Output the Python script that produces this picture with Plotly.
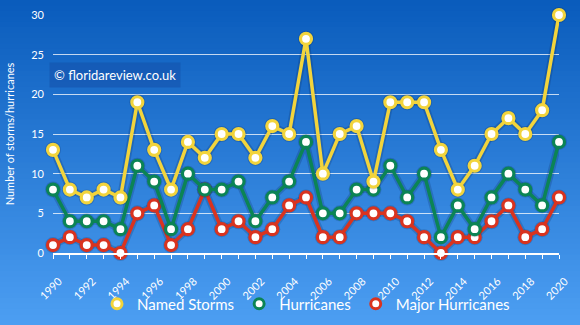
import plotly.graph_objects as go

years = list(range(1990, 2021))
named_storms = [13, 8, 7, 8, 7, 19, 13, 8, 14, 12, 15, 15, 12, 16, 15, 27, 10, 15, 16, 9,
                19, 19, 19, 13, 8, 11, 15, 17, 15, 18, 30]
hurricanes = [8, 4, 4, 4, 3, 11, 9, 3, 10, 8, 8, 9, 4, 7, 9, 14, 5, 5, 8, 8,
              11, 7, 10, 2, 6, 3, 7, 10, 8, 6, 14]
major_hurricanes = [1, 2, 1, 1, 0, 5, 6, 1, 3, 8, 3, 4, 2, 3, 6, 7, 2, 2, 5, 5,
                    5, 4, 2, 0, 2, 2, 4, 6, 2, 3, 7]
tick_years = list(range(1990, 2021, 2))

W, H = 580, 325
L, R, T, B = 53, 21, 15, 72
pw, ph = W - L - R, H - T - B

FONT = "Lato"
YEL, GRN, RED = "#f2d43c", "#0b8455", "#d9331f"

fig = go.Figure()

# gradient background via stacked stripes
top_rgb = (10, 92, 188)
bot_rgb = (76, 158, 242)
n = 60
shapes = []
for i in range(n):
    t = i / (n - 1)
    c = tuple(int(round(top_rgb[k] + (bot_rgb[k] - top_rgb[k]) * t)) for k in range(3))
    py0 = H * i / n
    py1 = H * (i + 1) / n + 0.8
    y0 = (H - B - py1) / ph
    y1 = (H - B - py0) / ph
    shapes.append(dict(type="rect", xref="paper", yref="paper",
                       x0=-L / pw, x1=(W - L) / pw, y0=y0, y1=y1,
                       fillcolor="rgb(%d,%d,%d)" % c, line=dict(width=0), layer="below"))

series = [
    ("Major Hurricanes", major_hurricanes, RED),
    ("Hurricanes", hurricanes, GRN),
    ("Named Storms", named_storms, YEL),
]
for name, vals, col in series:
    # soft shadow/glow
    fig.add_trace(go.Scatter(x=years, y=vals, mode="lines+markers",
                             line=dict(color="rgba(0,20,60,0.18)", width=7),
                             marker=dict(size=16, color="rgba(0,20,60,0.18)", line=dict(width=0)),
                             hoverinfo="skip", showlegend=False, cliponaxis=False))
    fig.add_trace(go.Scatter(x=years, y=vals, mode="lines+markers", name=name,
                             line=dict(color=col, width=3.5),
                             marker=dict(size=11, color="white", line=dict(color=col, width=3.2)),
                             showlegend=False, cliponaxis=False))

for name, vals, col in series[::-1]:
    fig.add_trace(go.Scatter(x=[None], y=[None], mode="markers", name=name,
                             marker=dict(size=10, color="white", line=dict(color=col, width=3)),
                             showlegend=True))

fig.update_layout(
    width=W, height=H,
    margin=dict(l=L, r=R, t=T, b=B, autoexpand=False),
    paper_bgcolor="#2f7ed8", plot_bgcolor="rgba(0,0,0,0)",
    shapes=shapes,
    font=dict(family=FONT, color="white"),
    showlegend=True,
    legend=dict(orientation="h", x=0.5, xanchor="center", y=(H - 304 - B) / ph, yanchor="middle",
                font=dict(size=15, color="white"), bgcolor="rgba(0,0,0,0)",
                itemwidth=30, tracegroupgap=0),
    annotations=[dict(text="© floridareview.co.uk", xref="paper", yref="paper",
                      x=(49 - L) / pw, y=(H - 75 - B) / ph, xanchor="left", yanchor="middle",
                      showarrow=False, font=dict(size=13, color="white", family=FONT),
                      bgcolor="rgba(20,80,170,0.55)", borderpad=4)],
)
fig.update_xaxes(range=[1990, 2020], tickmode="array", tickvals=tick_years,
                 ticktext=[str(y) for y in tick_years], tickangle=-45,
                 tickfont=dict(size=11, color="white", family=FONT),
                 ticklabelshift=6, ticklabelstandoff=12, automargin=False,
                 showgrid=False, zeroline=False, showline=True, linecolor="white", linewidth=1.5,
                 ticks="outside", tickcolor="white", ticklen=4, tickwidth=1,
                 minor=dict(dtick=1, ticks="outside", ticklen=4, tickcolor="white", tickwidth=1))
fig.update_yaxes(range=[0, 30], dtick=5, showgrid=True, gridcolor="rgba(255,255,255,0.75)", gridwidth=1,
                 zeroline=False, showline=False, ticks="", automargin=False,
                 tickfont=dict(size=11, color="white", family=FONT), ticklabelstandoff=8,
                 title=dict(text="Number of storms/hurricanes", font=dict(size=11, color="white", family=FONT),
                            standoff=14))

fig.write_html("out.html")
